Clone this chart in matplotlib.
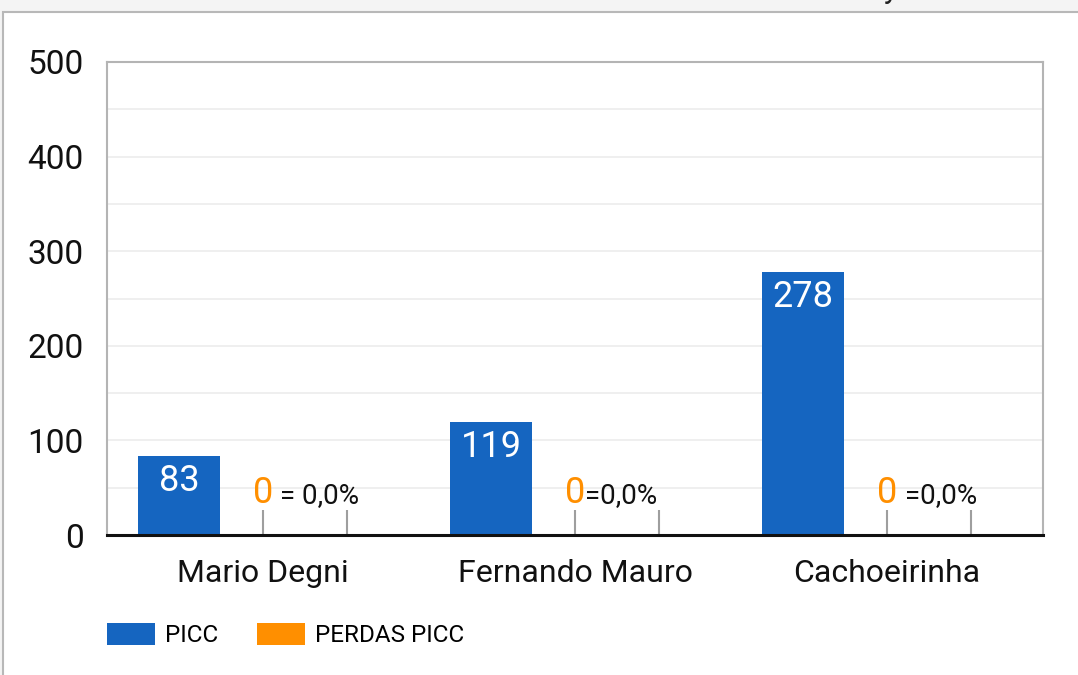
import matplotlib.pyplot as plt
from matplotlib.patches import Rectangle

plt.rcParams['font.family'] = ['Roboto', 'DejaVu Sans']

categories = ["Mario Degni", "Fernando Mauro", "Cachoeirinha"]
picc = [83, 119, 278]
perdas = [0, 0, 0]
perdas_pct = ["= 0,0%", "=0,0%", "=0,0%"]
y_ticks = [0, 100, 200, 300, 400, 500]

blue = '#1565c0'
orange = '#ff8f00'

fig = plt.figure(figsize=(10.78, 6.75), dpi=100, facecolor='#f4f4f4')

# outer card frame (white, gray border), top strip stays light gray
fig.patches.append(Rectangle((3 / 1078, -0.05), 1.1, (663 / 675) + 0.05,
                             transform=fig.transFigure, facecolor='white',
                             edgecolor='#b8b8b8', linewidth=1.5, zorder=-5))
# title is cut off at the top of the screenshot, only the descender shows
fig.text(884 / 1078, 1.0 + 2 / 675, "y", fontsize=22, va='baseline', color='#222222')

ax = fig.add_axes([107 / 1078, 140 / 675, 936 / 1078, 473 / 675])
ax.set_facecolor('white')

x = list(range(len(categories)))
w = 0.263
off = 0.269

bars1 = ax.bar([i - off for i in x], picc, width=w, color=blue, zorder=3, label='PICC')
bars2 = ax.bar(x, perdas, width=w, color=orange, zorder=3, label='PERDAS PICC')

for b, v in zip(bars1, picc):
    ax.annotate(str(v), (b.get_x() + b.get_width() / 2, v), xytext=(0, -5),
                textcoords='offset points', ha='center', va='top',
                color='white', fontsize=26, zorder=4)

pct_dx = [12, 7, 13]
for i, (v, pct) in enumerate(zip(perdas, perdas_pct)):
    ax.annotate(str(v), (i, v), xytext=(0, 17), textcoords='offset points',
                ha='center', va='bottom', color=orange, fontsize=26, zorder=4)
    ax.annotate(pct, (i, v), xytext=(pct_dx[i], 19), textcoords='offset points',
                ha='left', va='bottom', color='#111111', fontsize=20, zorder=4)
    # small gray markers of the zero-height columns
    ax.vlines([i, i + off], 0, 26, color='#9e9e9e', linewidth=1.5, zorder=2)

ax.set_xlim(-0.5, len(categories) - 0.5)
ax.set_ylim(0, 500)
ax.set_yticks(y_ticks)
ax.set_yticks(range(50, 500, 100), minor=True)
ax.grid(axis='y', which='both', color='#ececec', linewidth=1.2, zorder=0)
ax.set_xticks(x)
ax.set_xticklabels(categories)
ax.tick_params(axis='y', length=0, pad=17, labelsize=24, labelcolor='#111111')
ax.tick_params(axis='y', which='minor', length=0)
ax.tick_params(axis='x', length=0, pad=17, labelsize=23, labelcolor='#111111')

for s in ['left', 'top', 'right']:
    ax.spines[s].set_color('#b4b4b4')
    ax.spines[s].set_linewidth(1.5)
ax.spines['bottom'].set_color('#111111')
ax.spines['bottom'].set_linewidth(2.2)
ax.spines['bottom'].set_zorder(5)

leg = fig.legend(handles=[bars1, bars2], loc='center left',
                 bbox_to_anchor=(107 / 1078, 40 / 675), ncol=2, frameon=False,
                 fontsize=17.5, handlelength=1.98, handleheight=1.0,
                 handletextpad=0.41, columnspacing=1.6, borderpad=0,
                 borderaxespad=0)

fig.savefig('out.png', dpi=100, facecolor=fig.get_facecolor())
